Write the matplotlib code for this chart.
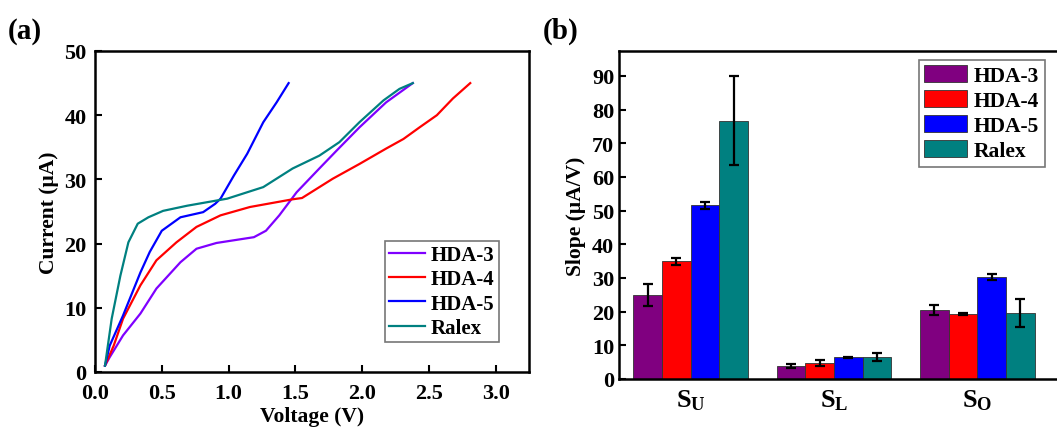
import matplotlib
matplotlib.use('Agg')
import matplotlib.pyplot as plt
import numpy as np

plt.rcParams['font.family'] = ['Liberation Serif', 'DejaVu Serif']
plt.rcParams['font.weight'] = 'bold'
plt.rcParams['mathtext.fontset'] = 'custom'
plt.rcParams['mathtext.rm'] = 'Liberation Serif:bold'
plt.rcParams['mathtext.bf'] = 'Liberation Serif:bold'
plt.rcParams['mathtext.it'] = 'Liberation Serif:bold'

# (a) I-V curves
v_hda3 = [0.075, 0.11, 0.21, 0.34, 0.46, 0.64, 0.76, 0.91, 1.19, 1.28, 1.38, 1.51, 1.68, 1.81, 1.98, 2.18, 2.38]
i_hda3 = [1.0, 2.3, 5.7, 9.1, 13.0, 17.1, 19.2, 20.1, 21.0, 22.0, 24.4, 28.0, 31.7, 34.5, 38.1, 42.0, 45.0]
v_hda4 = [0.075, 0.14, 0.21, 0.34, 0.46, 0.61, 0.76, 0.94, 1.16, 1.48, 1.55, 1.78, 1.98, 2.18, 2.31, 2.43, 2.56, 2.68, 2.81]
i_hda4 = [1.0, 4.1, 8.3, 13.5, 17.4, 20.2, 22.6, 24.4, 25.7, 26.9, 27.1, 30.1, 32.4, 34.8, 36.3, 38.1, 40.0, 42.6, 45.0]
v_hda5 = [0.075, 0.11, 0.21, 0.34, 0.41, 0.5, 0.64, 0.81, 0.9, 0.94, 1.04, 1.14, 1.26, 1.36, 1.45]
i_hda5 = [1.0, 4.1, 8.8, 15.5, 18.7, 22.0, 24.1, 24.9, 26.2, 27.0, 30.6, 34.0, 38.9, 42.0, 45.0]
v_ralex = [0.075, 0.125, 0.19, 0.25, 0.32, 0.4, 0.51, 0.69, 0.99, 1.26, 1.48, 1.68, 1.83, 1.98, 2.16, 2.28, 2.38]
i_ralex = [1.0, 8.3, 15.0, 20.2, 23.1, 24.1, 25.1, 25.9, 27.0, 28.8, 31.7, 33.7, 35.8, 38.9, 42.3, 44.1, 45.0]

# (b) slopes with error bars
groups = ['$S_U$', '$S_L$', '$S_O$']
names = ['HDA-3', 'HDA-4', 'HDA-5', 'Ralex']
slope_hda3 = [25.0, 3.9, 20.5]
err_hda3 = [3.3, 0.5, 1.5]
slope_hda4 = [35.0, 4.7, 19.2]
err_hda4 = [1.0, 0.9, 0.3]
slope_hda5 = [51.6, 6.4, 30.3]
err_hda5 = [1.0, 0.2, 1.0]
slope_ralex = [76.7, 6.5, 19.6]
err_ralex = [13.2, 1.2, 4.3]

line_colors = ['#7f00ff', '#ff0000', '#0000ff', '#008080']
bar_colors = ['#800080', '#ff0000', '#0000ff', '#008080']

fig = plt.figure(figsize=(10.57, 4.31), dpi=100)
W, H = 1057.0, 431.0

# ---- panel (a)
ax1 = fig.add_axes([95 / W, 1 - 373 / H, (529 - 95) / W, (373 - 52) / H])
curves = [(v_hda3, i_hda3), (v_hda4, i_hda4), (v_hda5, i_hda5), (v_ralex, i_ralex)]
for (v, i), c, n in zip(curves, line_colors, names):
    ax1.plot(v, i, color=c, lw=1.6, label=n)
ax1.set_xlim(0, 3.25)
ax1.set_ylim(0, 50)
ax1.set_xticks([0.0, 0.5, 1.0, 1.5, 2.0, 2.5, 3.0])
ax1.set_xticklabels(['0.0', '0.5', '1.0', '1.5', '2.0', '2.5', '3.0'])
ax1.set_yticks([0, 10, 20, 30, 40, 50])
ax1.tick_params(direction='in', labelsize=16, width=1.5, length=5)
ax1.tick_params(axis='x', pad=8)
ax1.tick_params(axis='y', pad=6)
ax1.set_xlabel('Voltage (V)', fontsize=15.5, fontweight='bold', labelpad=2)
ax1.set_ylabel('Current (\u03bcA)', fontsize=15.5, fontweight='bold', labelpad=4)
for s in ax1.spines.values():
    s.set_linewidth(1.8)
leg1 = ax1.legend(loc='lower left', bbox_to_anchor=((385 - 95) / 434, (373 - 343) / 321),
                  fontsize=15, frameon=True, fancybox=False, edgecolor='#555555',
                  handlelength=1.7, handletextpad=0.3, borderpad=0.2, labelspacing=0.2,
                  borderaxespad=0)
leg1.get_frame().set_linewidth(1.2)
fig.text(8 / W, 1 - 39 / H, '(a)', fontsize=21, fontweight='bold')

# ---- panel (b)
ax2 = fig.add_axes([619 / W, 1 - 380 / H, (1062 - 619) / W, (380 - 52) / H])
x = np.arange(len(groups))
bw = 0.2
series = [(slope_hda3, err_hda3), (slope_hda4, err_hda4), (slope_hda5, err_hda5), (slope_ralex, err_ralex)]
for k, ((vals, errs), c, n) in enumerate(zip(series, bar_colors, names)):
    ax2.bar(x + (k - 1.5) * bw, vals, bw, color=c, edgecolor='#333333', linewidth=0.6, label=n,
            yerr=errs, capsize=3.5, error_kw=dict(elinewidth=1.6, capthick=1.6, ecolor='black'))
ax2.set_xlim(-0.5, 2.5 + (1062 - 1049) / 143.5)
ax2.set_ylim(0, 97.4)
ax2.set_yticks(range(0, 100, 10))
ax2.set_xticks(x)
ax2.set_xticklabels(groups, fontsize=19)
ax2.tick_params(axis='y', direction='in', labelsize=16, width=1.5, length=5)
ax2.tick_params(axis='x', length=0, pad=6)
ax2.set_ylabel('Slope (\u03bcA/V)', fontsize=15.5, fontweight='bold', labelpad=4)
for s in ax2.spines.values():
    s.set_linewidth(1.8)
leg2 = ax2.legend(loc='upper left', bbox_to_anchor=((919 - 619) / 443, (380 - 61) / 328),
                  fontsize=15.5, frameon=True, fancybox=False, edgecolor='#555555',
                  handlelength=2.0, handleheight=0.8, handletextpad=0.3, borderpad=0.25,
                  labelspacing=0.2, borderaxespad=0)
leg2.get_frame().set_linewidth(1.2)
fig.text(543 / W, 1 - 39 / H, '(b)', fontsize=21, fontweight='bold')

fig.savefig('out.png', dpi=100)
